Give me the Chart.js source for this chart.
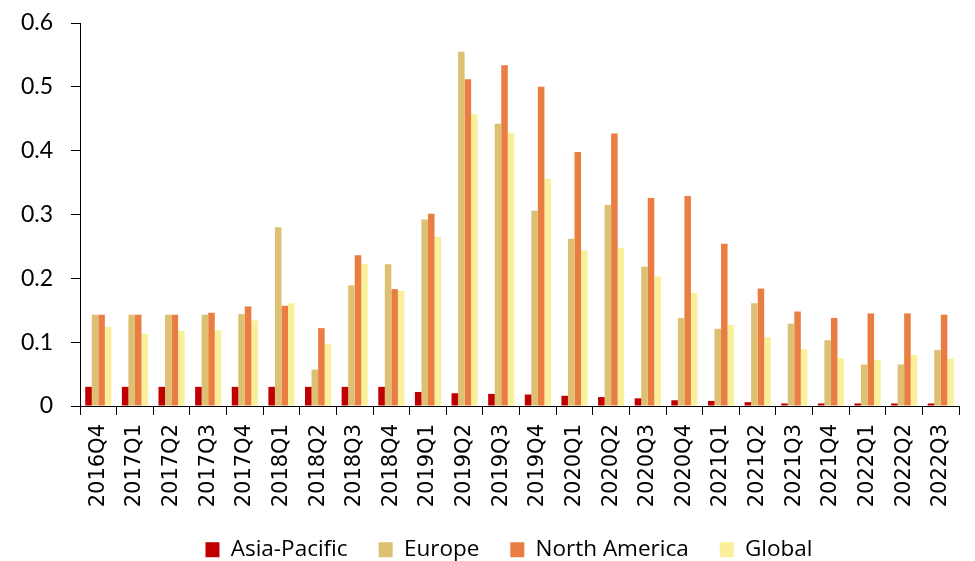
<!DOCTYPE html>
<html>
<head>
<meta charset="utf-8">
<script src="https://cdn.jsdelivr.net/npm/chart.js@4.4.1/dist/chart.umd.min.js"></script>
<style>
  html, body { margin: 0; padding: 0; background: #ffffff; }
  #wrap { width: 975px; height: 561px; overflow: hidden; }
</style>
</head>
<body>
<div id="wrap"><canvas id="chart" width="975" height="561"></canvas></div>
<script>
// Quarterly categories
const quarters = [
  '2016Q4',
  '2017Q1', '2017Q2', '2017Q3', '2017Q4',
  '2018Q1', '2018Q2', '2018Q3', '2018Q4',
  '2019Q1', '2019Q2', '2019Q3', '2019Q4',
  '2020Q1', '2020Q2', '2020Q3', '2020Q4',
  '2021Q1', '2021Q2', '2021Q3', '2021Q4',
  '2022Q1', '2022Q2', '2022Q3'
];

// Series values by region
const asiaPacific = [0.030, 0.030, 0.030, 0.030, 0.030, 0.030, 0.030, 0.030, 0.030,
  0.022, 0.020, 0.019, 0.018, 0.016, 0.014, 0.012, 0.009, 0.008, 0.006, 0.004,
  0.004, 0.004, 0.004, 0.004];
const europe = [0.143, 0.143, 0.143, 0.143, 0.144, 0.280, 0.057, 0.189, 0.222,
  0.292, 0.555, 0.442, 0.306, 0.262, 0.315, 0.218, 0.138, 0.121, 0.161, 0.129,
  0.103, 0.065, 0.065, 0.088];
const northAmerica = [0.143, 0.143, 0.143, 0.146, 0.156, 0.157, 0.122, 0.236, 0.183,
  0.301, 0.512, 0.534, 0.500, 0.398, 0.427, 0.326, 0.329, 0.254, 0.184, 0.148,
  0.138, 0.145, 0.145, 0.143];
const globalAvg = [0.124, 0.113, 0.118, 0.119, 0.134, 0.161, 0.097, 0.223, 0.180,
  0.265, 0.457, 0.428, 0.356, 0.244, 0.248, 0.203, 0.177, 0.127, 0.108, 0.089,
  0.075, 0.072, 0.080, 0.074];

// Value axis ticks
const yTicks = [0, 0.1, 0.2, 0.3, 0.4, 0.5, 0.6];

const seriesNames = ['Asia-Pacific', 'Europe', 'North America', 'Global'];
const seriesColors = ['#C00000', '#DDC072', '#EA7D41', '#FAF09C'];
const seriesData = [asiaPacific, europe, northAmerica, globalAvg];

const PAD_LEFT = 15;     // canvas edge to the value-axis box
const PAD_BOTTOM = -10;  // lets the legend row sit close to the bottom edge
const AXIS_X = 80;       // left edge of the plot area
const X_AXIS_H = 101.5;  // height reserved for the rotated quarter labels
const LEGEND_SHIFT = 13.5;

// Nudge the legend row to the right so it sits under the plot rather than the canvas
const legendShift = {
  id: 'legendShift',
  afterLayout(chart) {
    const lg = chart.legend;
    if (lg) { lg.left += LEGEND_SHIFT; lg.right += LEGEND_SHIFT; }
  }
};

function draw() {
  const ctx = document.getElementById('chart').getContext('2d');
  new Chart(ctx, {
    type: 'bar',
    data: {
      labels: quarters,
      datasets: seriesNames.map((name, i) => ({
        label: name,
        data: seriesData[i],
        backgroundColor: seriesColors[i],
        borderWidth: 0,
        categoryPercentage: 0.714,
        barPercentage: 1.0
      }))
    },
    plugins: [legendShift],
    options: {
      responsive: false,
      animation: false,
      devicePixelRatio: 1,
      layout: { padding: { left: PAD_LEFT, right: -1, top: 23, bottom: PAD_BOTTOM } },
      plugins: {
        tooltip: { enabled: false },
        title: { display: false },
        legend: {
          display: true,
          position: 'bottom',
          align: 'center',
          labels: {
            color: '#000000',
            font: { family: 'Open Sans', size: 22.5 },
            boxWidth: 14,
            boxHeight: 15,
            padding: 31
          }
        }
      },
      scales: {
        x: {
          offset: true,
          afterFit: (scale) => { scale.height = X_AXIS_H; },
          grid: {
            display: true,
            offset: true,
            drawOnChartArea: false,
            drawTicks: true,
            tickLength: 9,
            color: '#000000',
            lineWidth: 1
          },
          border: { display: true, color: '#000000', width: 1 },
          ticks: {
            autoSkip: false,
            maxRotation: 90,
            minRotation: 90,
            padding: 9,
            color: '#000000',
            font: { family: 'DejaVu Sans', size: 21 }
          }
        },
        y: {
          min: yTicks[0],
          max: yTicks[yTicks.length - 1],
          afterFit: (scale) => {
            scale.width = AXIS_X - PAD_LEFT;
            scale.paddingTop = 0;
            scale.paddingBottom = 0;
          },
          afterBuildTicks: (scale) => { scale.ticks = yTicks.map(v => ({ value: v })); },
          grid: {
            display: true,
            drawOnChartArea: false,
            drawTicks: true,
            tickLength: 9,
            color: '#000000',
            lineWidth: 1
          },
          border: { display: true, color: '#000000', width: 1 },
          ticks: {
            padding: 18,
            color: '#000000',
            font: { family: 'Lato', size: 23 },
            callback: (v) => String(Math.round(v * 10) / 10)
          }
        }
      }
    }
  });
}

if (document.fonts && document.fonts.load) {
  Promise.all([
    document.fonts.load('23px Lato'),
    document.fonts.load('22.5px "Open Sans"'),
    document.fonts.load('21px "DejaVu Sans"')
  ]).then(draw, draw);
} else {
  draw();
}
</script>
</body>
</html>
